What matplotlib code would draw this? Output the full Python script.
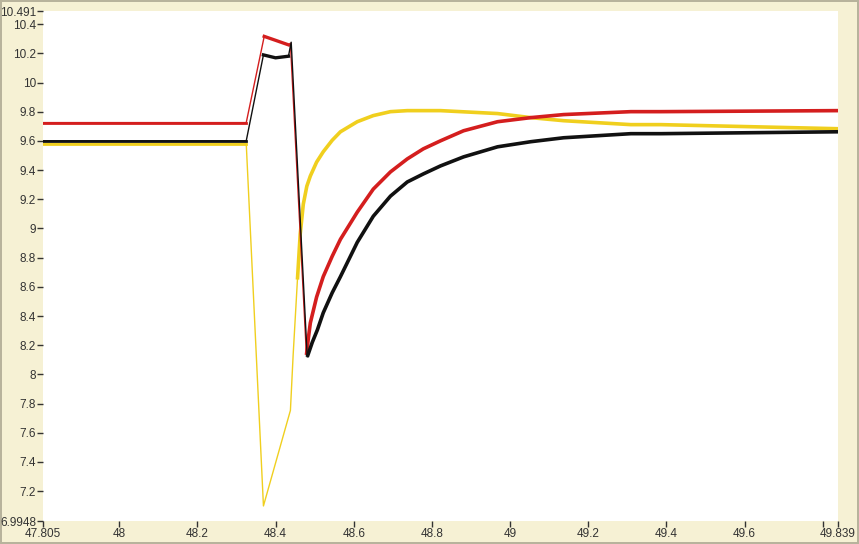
import matplotlib
matplotlib.use('Agg')
import matplotlib.pyplot as plt

# values (time, signal)
red_t = [47.805, 48.325, 48.371, 48.400, 48.433, 48.438, 48.479, 48.484, 48.489,
         48.505, 48.522, 48.545, 48.566, 48.609, 48.650, 48.694, 48.737, 48.778,
         48.822, 48.881, 48.968, 49.053, 49.137, 49.309, 49.386, 49.839]
red_v = [9.726, 9.726, 10.317, 10.290, 10.259, 10.270, 8.133, 8.250, 8.353,
         8.530, 8.670, 8.810, 8.926, 9.112, 9.270, 9.388, 9.477, 9.546,
         9.601, 9.670, 9.732, 9.760, 9.781, 9.801, 9.801, 9.808]

black_t = [47.805, 48.325, 48.369, 48.400, 48.433, 48.440, 48.481, 48.494, 48.507,
           48.522, 48.545, 48.566, 48.609, 48.650, 48.694, 48.737, 48.778, 48.822,
           48.881, 48.968, 49.053, 49.137, 49.309, 49.386, 49.839]
black_v = [9.601, 9.601, 10.190, 10.170, 10.181, 10.277, 8.119, 8.220, 8.305,
           8.422, 8.560, 8.670, 8.905, 9.084, 9.222, 9.319, 9.374, 9.429,
           9.491, 9.560, 9.595, 9.622, 9.650, 9.650, 9.663]

yellow_t = [47.805, 48.325, 48.369, 48.438, 48.445, 48.456, 48.463, 48.471, 48.480,
            48.489, 48.505, 48.522, 48.545, 48.566, 48.609, 48.650, 48.694, 48.737,
            48.822, 48.968, 49.053, 49.137, 49.309, 49.386, 49.839]
yellow_v = [9.581, 9.581, 7.098, 7.753, 8.133, 8.650, 8.960, 9.167, 9.290,
            9.360, 9.455, 9.526, 9.605, 9.663, 9.732, 9.774, 9.801, 9.808,
            9.808, 9.788, 9.760, 9.739, 9.712, 9.712, 9.684]

x_ticks = [47.805, 48, 48.2, 48.4, 48.6, 48.8, 49, 49.2, 49.4, 49.6, 49.8, 49.839]
x_labels = ['47.805', '48', '48.2', '48.4', '48.6', '48.8', '49', '49.2', '49.4',
            '49.6', '', '49.839']
y_ticks = [6.9948, 7.2, 7.4, 7.6, 7.8, 8, 8.2, 8.4, 8.6, 8.8, 9, 9.2, 9.4, 9.6,
           9.8, 10, 10.2, 10.4, 10.491]
y_labels = ['6.9948', '7.2', '7.4', '7.6', '7.8', '8', '8.2', '8.4', '8.6', '8.8',
            '9', '9.2', '9.4', '9.6', '9.8', '10', '10.2', '10.4', '10.491']

plt.rcParams['font.family'] = ['Liberation Sans', 'DejaVu Sans']

cream = '#f6f1d4'
fig = plt.figure(figsize=(8.59, 5.44), dpi=100)
fig.patch.set_facecolor(cream)
fig.patch.set_edgecolor('#b8b39c')
fig.patch.set_linewidth(1.5)
ax = fig.add_axes([43 / 859, 23 / 544, 795 / 859, 510 / 544])
ax.set_facecolor('white')

# thin lines for the fast transient, thicker where the signal is settled
# (start of settled part, plateau start, plateau end)
series = [(yellow_t, yellow_v, '#f0cf1e', 5, None, None),
          (red_t, red_v, '#d41e1e', 6, 2, 5),
          (black_t, black_v, '#111111', 6, 2, 5)]
for t, v, c, cut, p0, p1 in series:
    ax.plot(t, v, color=c, lw=1.0)
    ax.plot(t[:2], v[:2], color=c, lw=2.0)
    if p0 is not None:
        ax.plot(t[p0:p1], v[p0:p1], color=c, lw=2.4)
    ax.plot(t[cut:], v[cut:], color=c, lw=2.6, solid_capstyle='butt')

ax.set_xlim(47.805, 49.839)
ax.set_ylim(6.9948, 10.491)
ax.set_xticks(x_ticks)
ax.set_xticklabels(x_labels)
ax.set_yticks(y_ticks)
ax.set_yticklabels(y_labels)
for s in ax.spines.values():
    s.set_visible(False)
ax.tick_params(axis='both', direction='out', length=4, width=1, color='#333333',
               labelsize=8.5, labelcolor='#333333', pad=1)

fig.savefig('out.png', dpi=100, facecolor=fig.get_facecolor(), edgecolor=fig.get_edgecolor())
